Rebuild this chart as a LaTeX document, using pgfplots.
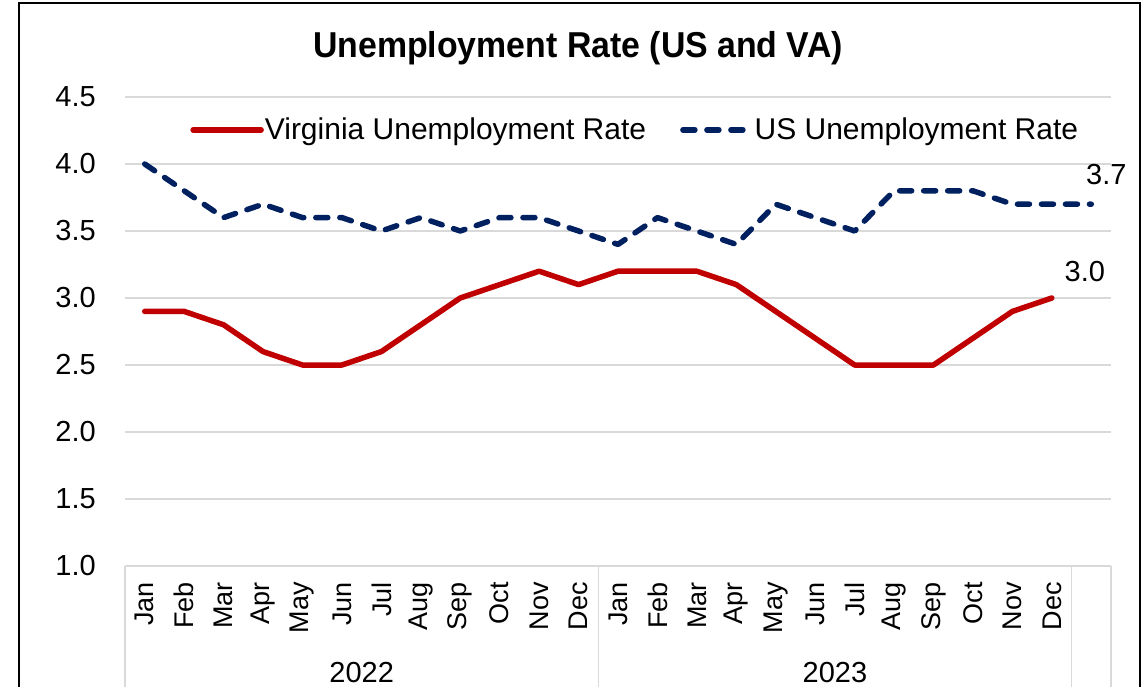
\documentclass[border=0pt]{standalone}
\usepackage{pgfplots}
\pgfplotsset{compat=1.18}
\usepackage{fontspec}
\setmainfont{Liberation Sans}
\newfontfamily\titlefont[FakeStretch=0.94]{Liberation Sans Bold}
\definecolor{vared}{HTML}{C00000}
\definecolor{usnavy}{HTML}{002060}
\definecolor{gridgray}{HTML}{D9D9D9}
\newcommand{\fsz}[1]{\fontsize{#1bp}{#1bp}\selectfont}

\pgfplotstableread{
x va
0 2.9
1 2.9
2 2.8
3 2.6
4 2.5
5 2.5
6 2.6
7 2.8
8 3.0
9 3.1
10 3.2
11 3.1
12 3.2
13 3.2
14 3.2
15 3.1
16 2.9
17 2.7
18 2.5
19 2.5
20 2.5
21 2.7
22 2.9
23 3.0
}\vadata

\pgfplotstableread{
x us
0 4.0
1 3.8
2 3.6
3 3.7
4 3.6
5 3.6
6 3.5
7 3.6
8 3.5
9 3.6
10 3.6
11 3.5
12 3.4
13 3.6
14 3.5
15 3.4
16 3.7
17 3.6
18 3.5
19 3.8
20 3.8
21 3.8
22 3.7
23 3.7
24 3.7
}\usdata

\begin{document}
\begin{tikzpicture}
\path[use as bounding box] (-125bp,-121bp) rectangle (1023bp,566bp);
\begin{axis}[
  scale only axis, width=986bp, height=469bp,
  xmin=-0.5, xmax=24.5, ymin=1, ymax=4.5,
  xtick={0,...,23},
  xticklabels={Jan,Feb,Mar,Apr,May,Jun,Jul,Aug,Sep,Oct,Nov,Dec,Jan,Feb,Mar,Apr,May,Jun,Jul,Aug,Sep,Oct,Nov,Dec},
  ytick={1,1.5,2,2.5,3,3.5,4,4.5},
  /pgf/number format/fixed, /pgf/number format/fixed zerofill,
  /pgf/number format/precision=1, /pgf/number format/assume math mode=true,
  yticklabel style={font=\fsz{29}, inner sep=0pt, anchor=east},
  yticklabel shift=29bp,
  xticklabel style={font=\fsz{27}, inner sep=0pt, rotate=90, anchor=east},
  xticklabel shift=16bp,
  major tick length=0pt,
  axis x line*=bottom, axis y line*=left,
  x axis line style={draw=gridgray, line width=1.5bp, -},
  y axis line style={draw=none},
  ymajorgrids, grid style={draw=gridgray, line width=1.5bp},
  clip=false,
  legend columns=2,
  legend style={draw=none, fill=none, at={(0.517,0.930)}, anchor=center,
    font=\fsz{30}, nodes={inner sep=1bp},
    /tikz/every even column/.append style={column sep=33bp}},
  legend image code/.code={\draw[#1] (0bp,0bp) -- (68bp,0bp);},
]
\addplot[vared, line width=5.5bp, line join=round, line cap=round] table[x=x, y=va] {\vadata};
\addlegendentry{Virginia Unemployment Rate}
\addplot[usnavy, line width=5.5bp, line join=round, line cap=round, dash pattern=on 12bp off 12bp] table[x=x, y=us] {\usdata};
\addlegendentry{US Unemployment Rate}

\node[font=\fsz{29}] at (axis cs:24,3.7) [xshift=15bp, yshift=30bp] {3.7};
\node[font=\fsz{29}] at (axis cs:23,3.0) [xshift=33bp, yshift=26bp] {3.0};

\draw[gridgray, line width=1.5bp] (axis cs:-0.5,1) -- ++(0pt,-140bp);
\draw[gridgray, line width=1.5bp] (axis cs:11.5,1) -- ++(0pt,-140bp);
\draw[gridgray, line width=1.5bp] (axis cs:23.5,1) -- ++(0pt,-140bp);
\draw[gridgray, line width=1.5bp] (axis cs:24.5,1) -- ++(0pt,-140bp);
\node[font=\fsz{29}, anchor=base] at (axis cs:5.5,1) [yshift=-116bp] {2022};
\node[font=\fsz{29}, anchor=base] at (axis cs:17.5,1) [yshift=-116bp] {2023};
\end{axis}
\node[anchor=base, font=\titlefont\fsz{36}] at (453bp,508bp) {Unemployment Rate (US and VA)};
\draw[line width=2bp, black] (-106bp,-130bp) -- (-106bp,563bp) -- (1015bp,563bp) -- (1015bp,-130bp);
\end{tikzpicture}
\end{document}
